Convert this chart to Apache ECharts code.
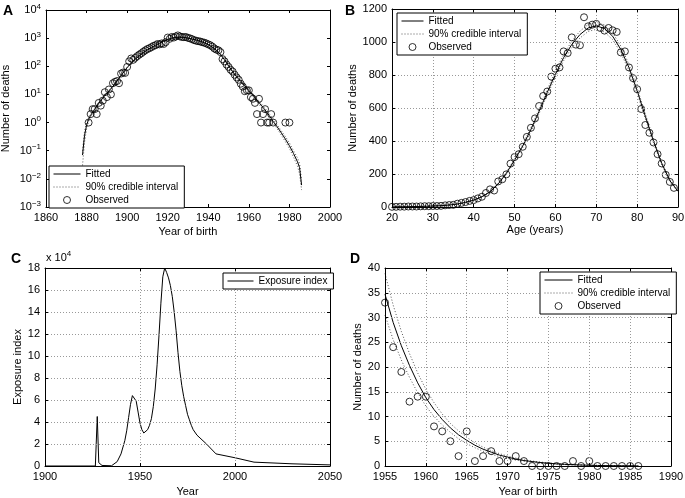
<!DOCTYPE html>
<html><head><meta charset="utf-8">
<script src="https://cdn.jsdelivr.net/npm/echarts@6/dist/echarts.min.js"></script>
<style>html,body{margin:0;padding:0;background:#fff}#c{width:685px;height:498px}</style>
</head><body><div id="c"></div>
<script>
// ---------- Panel A: deaths by year of birth (log scale) ----------
var aFitYears = [1878,1879,1880,1881,1882,1884,1886,1888,1890,1892,1894,1896,1898,1900,1902,1904,1906,1908,1910,1912,1914,1916,1918,1920,1922,1924,1926,1928,1930,1932,1934,1936,1938,1940,1942,1944,1946,1948,1950,1952,1954,1956,1958,1960,1962,1964,1966,1968,1970,1972,1974,1976,1978,1980,1982,1984,1985,1986];
var aFit  = [0.07,0.35,0.8,1.3,1.8,3.0,4.8,7.5,11,16,24,38,58,90,130,180,240,310,390,470,560,660,780,900,1000,1060,1080,1060,1000,930,860,780,690,590,480,370,265,170,105,64,42,29,20.3,13.8,9.4,6.3,4.2,2.8,1.8,1.1,0.7,0.43,0.26,0.15,0.08,0.04,0.025,0.006];
var aLow  = [0.03,0.2,0.6,1.1,1.6,2.7,4.4,7,10.3,15,22.5,36,55,86,125,174,233,302,381,460,549,648,766,885,984,1043,1063,1043,984,914,845,766,677,578,469,361,257,164,100,60,39,26.5,18.3,12.3,8.3,5.5,3.6,2.4,1.5,0.95,0.6,0.36,0.21,0.12,0.06,0.028,0.015,0.004];
var aHigh = [0.1,0.5,1.0,1.5,2.0,3.3,5.2,8,11.7,17,25.5,40,61,94,135,186,247,318,399,480,571,672,794,915,1016,1077,1097,1077,1016,946,875,794,703,602,491,379,273,176,110,68,45,31.5,22.3,15.3,10.5,7.1,4.8,3.2,2.1,1.3,0.82,0.51,0.32,0.19,0.1,0.055,0.035,0.009];
var aObsYears = [1881,1882,1883,1884,1885,1886,1887,1888,1889,1890,1891,1892,1893,1894,1895,1896,1897,1898,1899,1900,1901,1902,1903,1904,1905,1906,1907,1908,1909,1910,1911,1912,1913,1914,1915,1916,1917,1918,1919,1920,1921,1922,1923,1924,1925,1926,1927,1928,1929,1930,1931,1932,1933,1934,1935,1936,1937,1938,1939,1940,1941,1942,1943,1944,1945,1946,1947,1948,1949,1950,1951,1952,1953,1954,1955,1956,1957,1958,1959,1960,1961,1962,1963,1964,1965,1966,1967,1968,1969,1970,1971,1972,1978,1980];
var aObs = [1,2,3,3,2,5,4,6,12,8,15,10,25,28,30,25,55,60,58,95,150,190,170,200,230,260,290,330,370,410,440,480,530,560,620,600,650,620,720,1050,950,1100,1050,1150,1250,1150,1100,1080,1100,1020,980,920,850,810,780,760,720,690,650,600,560,500,430,390,370,320,180,150,115,95,75,65,50,40,33,24,19,13,14,14,8,7,5,2,7,1,2,3,1,1,2,1,1,1];

// ---------- Panel B: deaths by age ----------
var bFitAges = [20,22,24,26,28,30,32,34,36,38,40,42,44,46,48,50,52,54,56,58,60,62,64,66,68,70,72,74,76,78,80,82,84,86,88,90];
var bFit  = [1,1.5,2,3,4,6,8,12,18,28,42,62,92,140,205,285,370,470,580,695,805,905,985,1045,1085,1098,1082,1035,955,845,705,550,400,265,160,95];
var bLow  = [1,1.4,1.9,2.9,3.8,5.7,7.6,11.4,17,27,40,60,89,135,199,277,360,458,566,679,787,886,965,1024,1064,1077,1061,1014,935,826,688,535,388,256,153,90];
var bHigh = [1,1.6,2.1,3.1,4.2,6.3,8.4,12.6,19,29,44,64,95,145,211,293,380,482,594,711,823,924,1005,1066,1106,1119,1103,1056,975,864,722,565,412,274,167,100];
var bObsAges = [20,21,22,23,24,25,26,27,28,29,30,31,32,33,34,35,36,37,38,39,40,41,42,43,44,45,46,47,48,49,50,51,52,53,54,55,56,57,58,59,60,61,62,63,64,65,66,67,68,69,70,71,72,73,74,75,76,77,78,79,80,81,82,83,84,85,86,87,88,89];
var bObs = [1,1,2,2,3,3,3,4,5,5,6,6,7,10,12,13,20,25,30,37,42,52,62,85,107,100,155,168,198,263,303,320,365,425,480,537,612,673,700,790,838,846,943,933,1028,984,980,1150,1095,1105,1110,1085,1069,1085,1071,1061,937,943,846,781,714,594,497,450,391,320,264,195,152,116];

// ---------- Panel C: exposure index (x 10^4) ----------
var cYears = [1900,1926.5,1927.5,1928.3,1930,1935,1936,1938,1940,1942,1943,1944,1945,1946,1946.5,1947,1948,1949,1950,1951,1952,1953,1954,1955,1956,1957,1958,1959,1960,1961,1962,1963,1964,1965,1966,1967,1968,1969,1970,1971,1972,1973,1974,1975,1976,1977,1978,1980,1985,1990,2000,2010,2030,2050];
var cExposure = [0,0,4.5,0.3,0.05,0.02,0.05,0.4,1.1,2.3,3.2,4.4,5.6,6.4,6.55,6.45,5.9,4.9,3.9,3.3,3.0,3.05,3.3,3.7,4.3,5.4,7.0,9.2,11.9,14.8,17.2,18.0,17.6,17.1,16.4,15.4,14.0,12.3,10.3,8.6,7.3,6.3,5.5,4.7,4.2,3.7,3.3,2.8,2.0,1.1,0.75,0.35,0.2,0.1];

// ---------- Panel D: deaths by year of birth 1955-1986 ----------
var dFitYears = [1955,1956,1957,1958,1959,1960,1961,1962,1963,1964,1965,1966,1967,1968,1969,1970,1971,1972,1973,1974,1975,1976,1977,1978,1979,1980,1981,1982,1983,1984,1985,1986];
var dFit  = [34.7,29,24.3,20.3,16.8,13.8,11.4,9.4,7.7,6.3,5.2,4.2,3.4,2.8,2.2,1.8,1.4,1.1,0.9,0.7,0.55,0.43,0.33,0.26,0.2,0.15,0.11,0.08,0.06,0.04,0.025,0.01];
var dLow  = [30.5,25.5,21.4,17.9,14.8,12.1,10.0,8.3,6.8,5.5,4.5,3.7,3.0,2.4,1.9,1.5,1.2,0.95,0.75,0.6,0.46,0.36,0.27,0.21,0.16,0.12,0.09,0.06,0.045,0.03,0.018,0.006];
var dHigh = [38.9,32.5,27.2,22.7,18.8,15.5,12.8,10.5,8.6,7.1,5.8,4.7,3.8,3.1,2.5,2.0,1.6,1.25,1.0,0.8,0.62,0.49,0.38,0.3,0.23,0.17,0.13,0.1,0.075,0.05,0.032,0.014];
var dObsYears = [1955,1956,1957,1958,1959,1960,1961,1962,1963,1964,1965,1966,1967,1968,1969,1970,1971,1972,1973,1974,1975,1976,1977,1978,1979,1980,1981,1982,1983,1984,1985,1986];
var dObs = [33,24,19,13,14,14,8,7,5,2,7,1,2,3,1,1,2,1,0,0,0,0,0,1,0,1,0,0,0,0,0,0];

// ---------- build ----------
var FONT = 'Liberation Sans, Arial, Helvetica, sans-serif';
function zip(xs, ys){ return xs.map(function(x,i){ return [x, ys[i]]; }); }
var gridLine = {show:true, lineStyle:{type:[1,2], color:'#999', width:1}};
var noGrid = {show:false};
var plainLabel = {formatter: function(v){ return String(v); }};
function mkAxis(o){
  return {
    type: o.type || 'value', gridIndex: o.grid, position: o.position,
    min: o.min, max: o.max, interval: o.interval, logBase: o.logBase,
    name: o.name || '', nameLocation: 'middle', nameGap: o.nameGap || 0,
    nameTextStyle: {color:'#000', fontSize:11, fontFamily:FONT},
    axisLine: {show:true, onZero:false, lineStyle:{color:'#000', width:1}},
    axisTick: {show:true, inside:true, length:3, lineStyle:{color:'#000', width:1}},
    minorTick: {show:false},
    axisLabel: o.label === false ? {show:false} : Object.assign({show:true, color:'#000', fontSize:11, fontFamily:FONT, margin:5, showMinLabel:true, showMaxLabel:true, hideOverlap:false}, o.labelExtra || plainLabel),
    splitLine: o.split ? gridLine : noGrid,
    z: 5
  };
}
var supRich = {
  b:{fontSize:11, fontFamily:FONT, color:'#000', lineHeight:15},
  s:{fontSize:8, fontFamily:FONT, color:'#000', verticalAlign:'top', lineHeight:8}
};
var logLabel = {
  formatter: function(v){ var e = Math.round(Math.log10(v)); return '{b|10}{s|' + (e < 0 ? '\u2212' + (-e) : e) + '}'; },
  rich: supRich
};

var xAxes = [
  mkAxis({grid:0, position:'bottom', min:1860, max:2000, interval:20, name:'Year of birth', nameGap:19}),
  mkAxis({grid:0, position:'top', min:1860, max:2000, interval:20, label:false}),
  mkAxis({grid:1, position:'bottom', min:20, max:90, interval:10, name:'Age (years)', nameGap:17, split:true}),
  mkAxis({grid:1, position:'top', min:20, max:90, interval:10, label:false}),
  mkAxis({grid:2, position:'bottom', min:1900, max:2050, interval:50, name:'Year', nameGap:20, split:true}),
  mkAxis({grid:2, position:'top', min:1900, max:2050, interval:50, label:false}),
  mkAxis({grid:3, position:'bottom', min:1955, max:1990, interval:5, name:'Year of birth', nameGap:20, split:true}),
  mkAxis({grid:3, position:'top', min:1955, max:1990, interval:5, label:false})
];
var yAxes = [
  mkAxis({grid:0, position:'left', type:'log', logBase:10, min:0.001, max:10000, name:'Number of deaths', nameGap:35, labelExtra:logLabel}),
  mkAxis({grid:0, position:'right', type:'log', logBase:10, min:0.001, max:10000, label:false}),
  mkAxis({grid:1, position:'left', min:0, max:1200, interval:200, name:'Number of deaths', nameGap:34, split:true}),
  mkAxis({grid:1, position:'right', min:0, max:1200, interval:200, label:false}),
  mkAxis({grid:2, position:'left', min:0, max:18, interval:2, name:'Exposure index', nameGap:22, split:true}),
  mkAxis({grid:2, position:'right', min:0, max:18, interval:2, label:false}),
  mkAxis({grid:3, position:'left', min:0, max:40, interval:5, name:'Number of deaths', nameGap:22, split:true}),
  mkAxis({grid:3, position:'right', min:0, max:40, interval:5, label:false})
];

var solid = {color:'#000', width:1, type:'solid'};
var dotted = {color:'#555', width:1, type:[1,2]};
function lineS(name, xi, yi, data, style){
  return {type:'line', name:name, xAxisIndex:xi, yAxisIndex:yi, data:data, symbol:'none', showSymbol:false,
    lineStyle:style, itemStyle:{color:style.color}, silent:true, animation:false, z:3};
}
function obsS(xi, yi, data){
  return {type:'scatter', name:'Observed', xAxisIndex:xi, yAxisIndex:yi, data:data, symbol:'circle', symbolSize:7,
    itemStyle:{color:'rgba(0,0,0,0)', borderColor:'#000', borderWidth:1}, silent:true, animation:false, z:4};
}
var series = [
  lineS('90% credible interval', 0, 0, zip(aFitYears, aLow), dotted),
  lineS('90% credible interval', 0, 0, zip(aFitYears, aHigh), dotted),
  lineS('Fitted', 0, 0, zip(aFitYears, aFit), solid),
  obsS(0, 0, zip(aObsYears, aObs)),
  lineS('90% credible interval', 2, 2, zip(bFitAges, bLow), dotted),
  lineS('90% credible interval', 2, 2, zip(bFitAges, bHigh), dotted),
  lineS('Fitted', 2, 2, zip(bFitAges, bFit), solid),
  obsS(2, 2, zip(bObsAges, bObs)),
  lineS('Exposure index', 4, 4, zip(cYears, cExposure), solid),
  lineS('90% credible interval', 6, 6, zip(dFitYears, dLow), dotted),
  lineS('90% credible interval', 6, 6, zip(dFitYears, dHigh), dotted),
  lineS('Fitted', 6, 6, zip(dFitYears, dFit), solid),
  obsS(6, 6, zip(dObsYears, dObs))
];

function legendItems(names){
  return names.map(function(n){
    if (n === 'Observed') return {name:n, icon:'circle', itemStyle:{color:'rgba(0,0,0,0)', borderColor:'#000', borderWidth:1}};
    if (n === '90% credible interval') return {name:n, itemStyle:{opacity:0}, lineStyle:{color:'#555', width:1, type:[1,2]}};
    return {name:n, itemStyle:{opacity:0}, lineStyle:{color:'#000', width:1, type:'solid'}};
  });
}
function legendCfg(left, top, itemWidth, names){
  return {left:left, top:top, orient:'vertical', itemWidth:itemWidth, itemHeight:7, itemGap:3, padding:[3,6,3,4],
    borderColor:'#000', borderWidth:1, borderRadius:0, backgroundColor:'#fff', selectedMode:false,
    textStyle:{fontSize:10, fontFamily:FONT, color:'#000'}, data:legendItems(names), z:10};
}
var L3 = ['Fitted','90% credible interval','Observed'];

var letter = function(t, l, tp){ return {type:'text', left:l, top:tp, style:{text:t, font:'bold 14px ' + FONT, fill:'#000'}}; };

var option = {
  backgroundColor:'#fff',
  animation:false,
  grid:[
    {left:46, top:10, width:284, height:197, outerBoundsMode:'none', containLabel:false},
    {left:392, top:9, width:286, height:198, outerBoundsMode:'none', containLabel:false},
    {left:45, top:268, width:285, height:198, outerBoundsMode:'none', containLabel:false},
    {left:385, top:268, width:286, height:198, outerBoundsMode:'none', containLabel:false}
  ],
  xAxis: xAxes,
  yAxis: yAxes,
  legend:[
    legendCfg(49, 166, 27, L3),
    legendCfg(397, 13, 22, L3),
    legendCfg(223, 273, 26, ['Exposure index']),
    legendCfg(540, 272, 28, L3)
  ],
  graphic:[
    letter('A', 3, 4), letter('B', 345, 4), letter('C', 11, 252), letter('D', 350, 252),
    {type:'text', left:46, top:250, style:{text:'{b|x 10}{s|4}', rich:supRich, fill:'#000'}}
  ],
  series: series
};
var chart = echarts.init(document.getElementById('c'), null, {renderer:'canvas'});
chart.setOption(option);
</script></body></html>
